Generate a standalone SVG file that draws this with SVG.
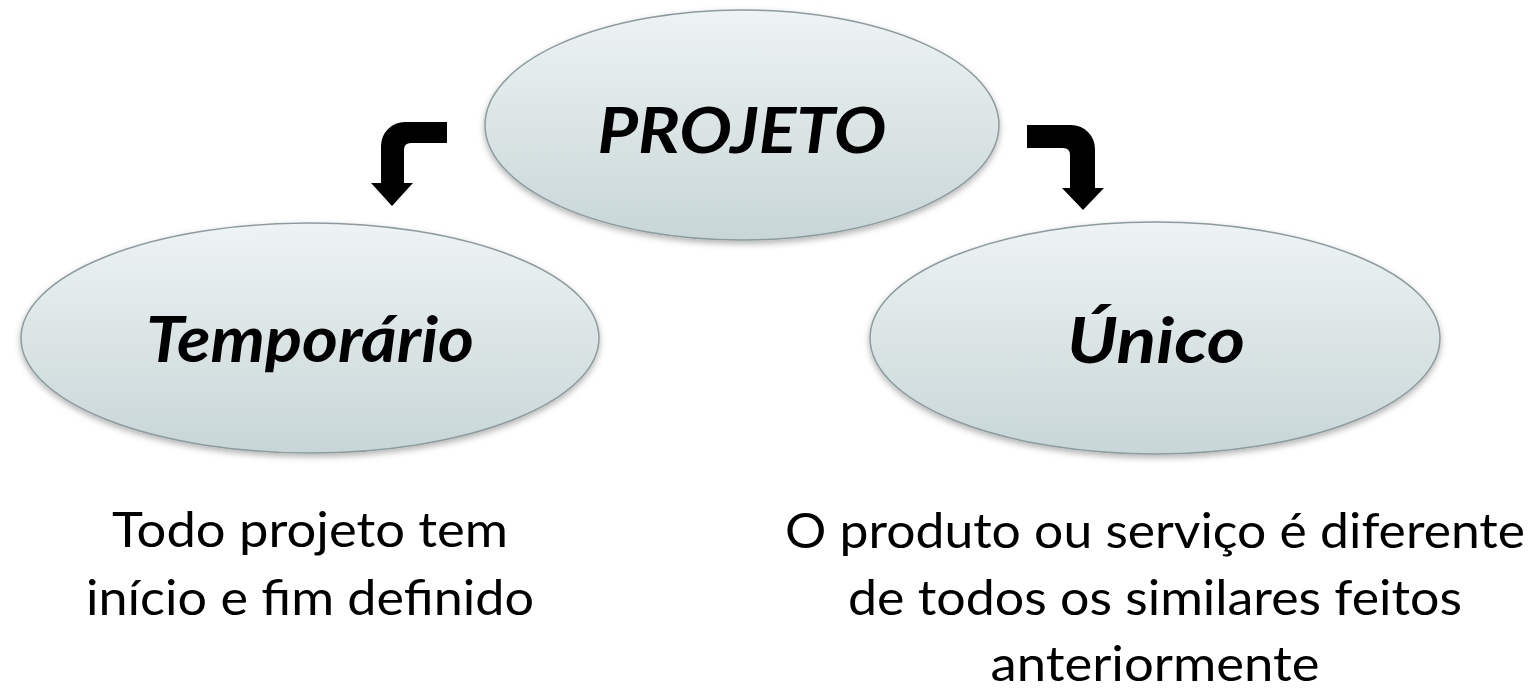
<svg xmlns="http://www.w3.org/2000/svg" width="1534" height="689" viewBox="0 0 1534 689">
  <defs>
    <linearGradient id="fill" x1="0" y1="0" x2="0" y2="1">
      <stop offset="0" stop-color="#eef3f3"/>
      <stop offset="1" stop-color="#c8d6d8"/>
    </linearGradient>
    <filter id="shadow" x="-10%" y="-10%" width="120%" height="125%">
      <feDropShadow dx="0" dy="3" stdDeviation="3" flood-color="#000" flood-opacity="0.3"/>
    </filter>
  </defs>
  <style>
    .node { fill: url(#fill); stroke: #8c9c9e; stroke-width: 1.5; filter: url(#shadow); }
    .title { font-family: Lato, "Open Sans", "Liberation Sans", sans-serif; font-weight: bold; font-style: italic; font-size: 64px; fill: #000; text-anchor: middle; }
    .desc { font-family: Lato, "Open Sans", "Liberation Sans", sans-serif; font-size: 49px; fill: #000; text-anchor: middle; }
    .arrow { fill: #000; }
  </style>
  <rect width="1534" height="689" fill="#fff"/>
  <g id="connectors">
    <path class="arrow" d="M447,122 L405,122 A24,24 0 0 0 381,146 L381,183 L371,183 L392,206 L413,183 L404,183 L404,150 Q404,143 411,143 L447,143 Z"/>
    <path class="arrow" d="M1027,125 L1071,125 A24,24 0 0 1 1095,149 L1095,188 L1104,188 L1083,210 L1062,188 L1070,188 L1070,155 Q1070,148 1063,148 L1027,148 Z"/>
  </g>
  <g id="node-projeto">
    <ellipse class="node" cx="742" cy="125" rx="257" ry="115"/>
    <text class="title" x="742" y="153" textLength="289" lengthAdjust="spacingAndGlyphs">PROJETO</text>
  </g>
  <g id="node-temporario">
    <ellipse class="node" cx="310" cy="338" rx="289" ry="115"/>
    <text class="title" x="310" y="362" textLength="328" lengthAdjust="spacingAndGlyphs">Temporário</text>
  </g>
  <g id="node-unico">
    <ellipse class="node" cx="1155" cy="338" rx="285" ry="116"/>
    <text class="title" x="1156" y="363" textLength="178" lengthAdjust="spacingAndGlyphs">Único</text>
  </g>
  <g id="desc-temporario">
    <text class="desc" x="310" y="547" textLength="396" lengthAdjust="spacingAndGlyphs">Todo projeto tem</text>
    <text class="desc" x="310" y="615" textLength="448" lengthAdjust="spacingAndGlyphs">início e fim definido</text>
  </g>
  <g id="desc-unico">
    <text class="desc" x="1155" y="548" textLength="740" lengthAdjust="spacingAndGlyphs">O produto ou serviço é diferente</text>
    <text class="desc" x="1155" y="615" textLength="614" lengthAdjust="spacingAndGlyphs">de todos os similares feitos</text>
    <text class="desc" x="1155" y="681" textLength="329" lengthAdjust="spacingAndGlyphs">anteriormente</text>
  </g>
</svg>
